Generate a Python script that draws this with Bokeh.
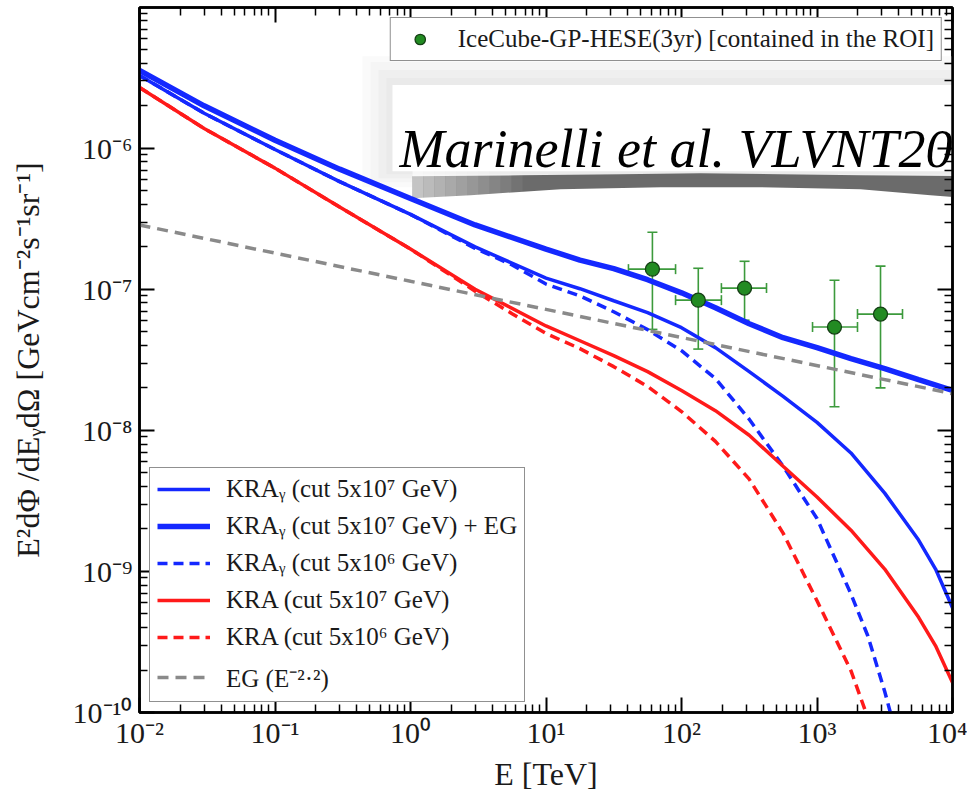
import math
from bokeh.plotting import figure
from bokeh.models import (FixedTicker, CustomJSTickFormatter, LogAxis, Legend, LegendItem,
                          Whisker, TeeHead, ColumnDataSource, Label, Range1d)
from bokeh.embed import file_html
from bokeh.resources import INLINE

# ---------------- data (E in TeV, flux in GeV cm^-2 s^-1 sr^-1) ----------------
kra_g_eg_E = [0.01, 0.03, 0.1, 0.3, 1, 3, 10, 17.8, 31.6, 56.2, 100, 178, 316, 562, 1000,
              1780, 3160, 5620, 10000]
kra_g_eg_F = [3.56e-6, 2.0e-6, 1.14e-6, 7.11e-7, 4.40e-7, 2.86e-7, 1.93e-7, 1.61e-7, 1.40e-7,
              1.17e-7, 9.44e-8, 7.39e-8, 5.70e-8, 4.54e-8, 3.86e-8, 3.23e-8, 2.74e-8, 2.29e-8,
              1.92e-8]

kra_g_E = [0.01, 0.03, 0.1, 0.3, 1, 3, 10, 17.8, 31.6, 56.2, 100, 178, 316, 562, 1000,
           1780, 3160, 5620, 7500, 10000]
kra_g_F = [3.28e-6, 1.77e-6, 9.8e-7, 5.8e-7, 3.4e-7, 2.0e-7, 1.2e-7, 1.01e-7, 8.3e-8, 6.83e-8,
           5.35e-8, 3.86e-8, 2.61e-8, 1.74e-8, 1.14e-8, 6.92e-9, 3.59e-9, 1.67e-9, 1.04e-9,
           5.52e-10]

kra_g6_E = [0.01, 0.03, 0.1, 0.3, 1, 3, 5.62, 10, 17.8, 31.6, 56.2, 100, 178, 316, 562, 1000,
            1780, 2370, 3160, 4220]
kra_g6_F = [3.28e-6, 1.77e-6, 9.8e-7, 5.8e-7, 3.4e-7, 1.95e-7, 1.49e-7, 1.09e-7, 8.99e-8,
            6.93e-8, 5.18e-8, 3.67e-8, 2.33e-8, 1.20e-8, 5.57e-9, 2.37e-9, 6.93e-10, 3.50e-10,
            1.41e-10, 5.0e-11]

kra_E = [0.01, 0.03, 0.1, 0.3, 1, 3, 10, 17.8, 31.6, 56.2, 100, 178, 316, 562, 1000, 1780,
         3160, 5620, 7500, 10000]
kra_F = [2.70e-6, 1.38e-6, 7.23e-7, 3.83e-7, 1.93e-7, 1.0e-7, 5.5e-8, 4.32e-8, 3.39e-8,
         2.61e-8, 1.92e-8, 1.38e-8, 9.23e-9, 5.57e-9, 3.37e-9, 1.96e-9, 1.04e-9, 4.73e-10,
         2.97e-10, 1.63e-10]

kra6_E = [0.01, 0.03, 0.1, 0.3, 1, 3, 5.62, 10, 17.8, 31.6, 56.2, 100, 178, 316, 562, 1000,
          1780, 2370, 3160]
kra6_F = [2.70e-6, 1.38e-6, 7.23e-7, 3.83e-7, 1.93e-7, 9.7e-8, 6.72e-8, 4.86e-8, 3.80e-8,
          2.83e-8, 2.05e-8, 1.36e-8, 8.36e-9, 4.51e-9, 1.87e-9, 6.2e-10, 1.98e-10, 9.2e-11,
          3.0e-11]

eg_E = [0.01, 1, 10000]
eg_F = [2.86e-7, 1.14e-7, 1.82e-8]

ic_E = [61, 133, 292, 1346, 2943]
ic_E_lo = [40.6, 90.4, 197, 927, 1990]
ic_E_hi = [90.4, 197, 424, 1990, 4276]
ic_F = [1.39e-7, 8.38e-8, 1.02e-7, 5.4e-8, 6.67e-8]
ic_F_lo = [5.2e-8, 3.77e-8, 6.04e-8, 1.47e-8, 2.0e-8]
ic_F_hi = [2.54e-7, 1.41e-7, 1.58e-7, 1.16e-7, 1.46e-7]

x_major = [1e-2, 1e-1, 1e0, 1e1, 1e2, 1e3, 1e4]
y_major = [1e-10, 1e-9, 1e-8, 1e-7, 1e-6]

labels = ["KRAᵧ (cut 5x10⁷ GeV)", "KRAᵧ (cut 5x10⁷ GeV) + EG", "KRAᵧ (cut 5x10⁶ GeV)",
          "KRA (cut 5x10⁷ GeV)", "KRA (cut 5x10⁶ GeV)", "EG (E⁻²·²)"]
ic_label = "IceCube-GP-HESE(3yr) [contained in the ROI]"
overlay_text = "Marinelli et al. VLVNT20"

# ---------------- style ----------------
BLUE = "#1428ff"
RED = "#ff1a1a"
GREY = "#8a8a8a"
GREEN = "#228b22"
ERR = "#3c9a3c"
SERIF = "Liberation Serif"

X_LO, X_HI = 1e-2, 1e4
Y_LO, Y_HI = 1e-10, 9.95e-6

p = figure(width=967, height=794, x_axis_type="log", y_axis_type="log",
           x_range=Range1d(X_LO, X_HI), y_range=Range1d(Y_LO, Y_HI),
           min_border_left=139, min_border_right=15, min_border_top=7, min_border_bottom=77,
           output_backend="svg", toolbar_location=None,
           background_fill_color="white", border_fill_color="white")
p.grid.visible = False
p.outline_line_color = "black"
p.outline_line_width = 2.5

# helpers for the decorative pasted overlay (page pixels -> data)
FL, FR, FT, FB = 139, 952, 7, 717
def dx(px):
    return 10 ** (math.log10(X_LO) + (math.log10(X_HI) - math.log10(X_LO)) * (px - FL) / (FR - FL))
def dy(py):
    return 10 ** (math.log10(Y_LO) + (math.log10(Y_HI) - math.log10(Y_LO)) * (FB - py) / (FB - FT))

# ---- overlay (pasted caption box with soft shadow + grey band) ----
for (l, t, b, c) in [(362, 56, 188, "#fafafa"), (370, 62, 183, "#f5f5f5"),
                     (378, 70, 179, "#efefef"), (386, 78, 175, "#eaeaea")]:
    p.quad(left=dx(l), right=dx(990), top=dy(t), bottom=dy(b), fill_color=c, line_color=None)
p.quad(left=dx(392), right=dx(990), top=dy(85), bottom=dy(172), fill_color="white",
       line_color=None)
band_top = [(412, 177), (520, 176), (620, 175), (700, 174), (780, 175), (860, 176), (990, 177)]
band_bot = [(990, 201), (930, 196), (860, 190), (760, 188), (660, 188), (560, 190), (470, 196), (412, 199)]
pts = band_top + band_bot
p.patch([dx(a) for a, b in pts], [dy(b) for a, b in pts], fill_color="#5e5e5e",
        line_color=None, fill_alpha=0.92)
for i in range(10):
    x0 = 412 + i * 11
    p.quad(left=dx(x0), right=dx(x0 + 11), top=dy(170), bottom=dy(203), fill_color="white",
           fill_alpha=0.6 * (1 - i / 10), line_color=None)

# ---- curves ----
r1 = p.line(kra_g_E, kra_g_F, line_color=BLUE, line_width=3.5)
r2 = p.line(kra_g_eg_E, kra_g_eg_F, line_color=BLUE, line_width=5.5)
r3 = p.line(kra_g6_E, kra_g6_F, line_color=BLUE, line_width=3.5, line_dash="10 6")
r4 = p.line(kra_E, kra_F, line_color=RED, line_width=3.5)
r5 = p.line(kra6_E, kra6_F, line_color=RED, line_width=3.5, line_dash="10 6")
r6 = p.line(eg_E, eg_F, line_color=GREY, line_width=3.5, line_dash="11 7")

# ---- IceCube points ----
src = ColumnDataSource(dict(E=ic_E, E_lo=ic_E_lo, E_hi=ic_E_hi, F=ic_F, F_lo=ic_F_lo, F_hi=ic_F_hi))
def tee():
    return TeeHead(size=10, line_color=ERR, line_width=1.6)
p.add_layout(Whisker(source=src, base="E", upper="F_hi", lower="F_lo", dimension="height",
                     line_color=ERR, line_width=1.6, upper_head=tee(), lower_head=tee()))
p.add_layout(Whisker(source=src, base="F", upper="E_hi", lower="E_lo", dimension="width",
                     line_color=ERR, line_width=1.6, upper_head=tee(), lower_head=tee()))
rp = p.scatter("E", "F", source=src, size=14, fill_color=GREEN, line_color="#153f15",
               line_width=1.3)

# ---- axes ----
sup_code = """
const sup = {"-": "\u207b", "0": "\u2070", "1": "\u00b9", "2": "\u00b2", "3": "\u00b3",
             "4": "\u2074", "5": "\u2075", "6": "\u2076", "7": "\u2077", "8": "\u2078", "9": "\u2079"};
const e = Math.round(Math.log10(tick));
return "10" + String(e).split("").map(c => sup[c]).join("");
"""

def minors(lo, hi):
    return [m * 10.0 ** k for k in range(lo, hi) for m in range(2, 10)]

def style(ax, ticker, show):
    ax.ticker = ticker
    ax.axis_line_width = 2.5
    ax.axis_line_color = "black"
    ax.major_tick_in = 15
    ax.major_tick_out = 0
    ax.minor_tick_in = 8
    ax.minor_tick_out = 0
    ax.major_tick_line_width = 2
    ax.minor_tick_line_width = 1.5
    if show:
        ax.formatter = CustomJSTickFormatter(code=sup_code)
        ax.major_label_text_font = SERIF
        ax.major_label_text_font_size = "30px"
        ax.major_label_text_color = "#1a1a1a"
        ax.axis_label_text_font = SERIF
        ax.axis_label_text_font_style = "normal"
        ax.axis_label_text_color = "#1a1a1a"
    else:
        ax.formatter = CustomJSTickFormatter(code="return ''")
        ax.major_label_text_font_size = "0px"
        ax.major_label_standoff = 0

xb = p.xaxis[0]
yl = p.yaxis[0]
style(xb, FixedTicker(ticks=x_major, minor_ticks=minors(-2, 4)), True)
style(yl, FixedTicker(ticks=y_major, minor_ticks=minors(-10, -5)), True)
xb.major_label_standoff = 3
xb.axis_label = "E [TeV]"
xb.axis_label_text_font_size = "32px"
xb.axis_label_standoff = 4
yl.major_label_standoff = 7
yl.axis_label = "E²dΦ /dEᵧdΩ [GeVcm⁻²s⁻¹sr⁻¹]"
yl.axis_label_text_font_size = "32px"
yl.axis_label_standoff = 24

top_ax = LogAxis()
style(top_ax, FixedTicker(ticks=x_major, minor_ticks=minors(-2, 4)), False)
p.add_layout(top_ax, "above")
right_ax = LogAxis()
style(right_ax, FixedTicker(ticks=y_major, minor_ticks=minors(-10, -5)), False)
p.add_layout(right_ax, "right")

# ---- overlay caption ----
p.add_layout(Label(x=dx(399), y=dy(149), text=overlay_text, text_font=SERIF,
                   text_font_style="italic", text_font_size="54px", text_color="black",
                   text_baseline="alphabetic", text_align="left"))

# ---- legends ----
leg = Legend(items=[LegendItem(label=l, renderers=[r]) for l, r in
                    zip(labels, [r1, r2, r3, r4, r5, r6])],
             location="bottom_left", margin=10, padding=7, spacing=9,
             label_text_font=SERIF, label_text_font_size="25px", label_text_color="#1a1a1a",
             label_height=26, glyph_height=26, glyph_width=53, label_standoff=16,
             border_line_color="#222222", border_line_width=1.2,
             background_fill_color="white", background_fill_alpha=1.0)
p.add_layout(leg)

leg2 = Legend(items=[LegendItem(label=ic_label, renderers=[rp])],
              location="top_right", margin=10, padding=7,
              label_text_font=SERIF, label_text_font_size="25px", label_text_color="#1a1a1a",
              label_height=26, glyph_height=26, glyph_width=44, label_standoff=16,
              border_line_color="#222222", border_line_width=1.2,
              background_fill_color="white", background_fill_alpha=1.0)
p.add_layout(leg2)

open("out.html", "w", encoding="utf-8").write(file_html(p, INLINE))
